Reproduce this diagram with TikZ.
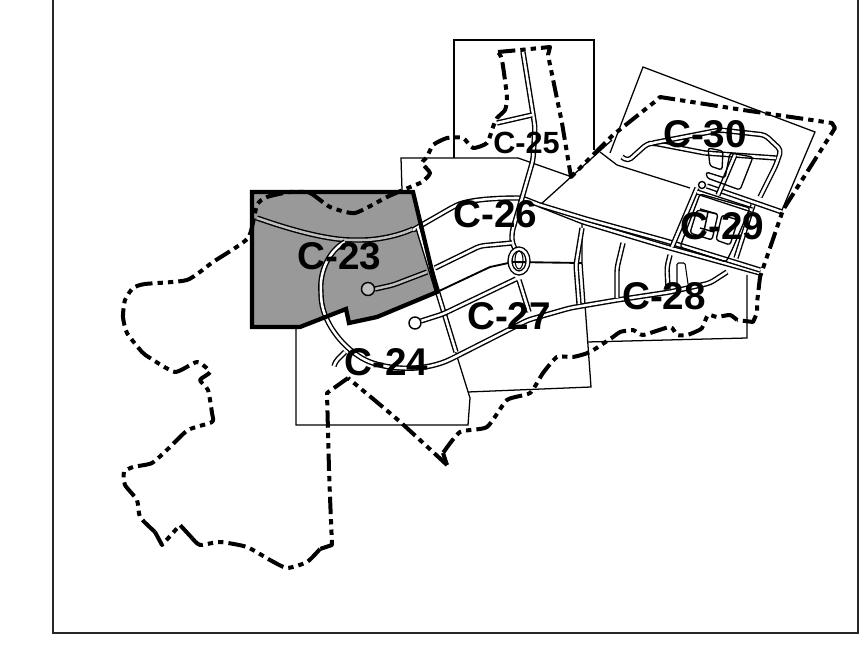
\documentclass[tikz,border=0pt]{standalone}
\usepackage{fontspec}
\setmainfont{Liberation Sans}
\begin{document}
\begin{tikzpicture}[x=.75pt,y=-.75pt]
\tikzset{sheet/.style={draw,line width=.95pt,line join=miter},
    road/.style={draw=black,line width=1.05pt,double=white,double distance=1.9pt,line join=round,rounded corners=3pt},
    grayroad/.style={road,double=black!25},
    roadend/.style={draw=black,line width=1.05pt,fill=white},
    lot/.style={draw,line width=1pt,rounded corners=2pt},
    boundary/.style={draw,line width=3pt,dash pattern=on 13pt off 3.8pt on 4pt off 3.8pt on 4pt off 3.8pt,line join=round},
    sheetlabel/.style={font=\bfseries\fontsize{29}{29}\selectfont,inner sep=0pt},
    smalllabel/.style={font=\bfseries\fontsize{23}{23}\selectfont,inner sep=0pt}}
\useasboundingbox (0,0) rectangle (864,648);
\draw[line width=1.5pt,draw=black!85] (53,-2) -- (53,633) -- (858,633) -- (858,-2);

% shaded sheet
\fill[black!40] (252,192) -- (413,192) -- (437,292) -- (377,317) -- (349,323) -- (346,309) -- (323,318) -- (300,327) -- (252,327) -- cycle;

% sheet limits
\draw[sheet] (296,327) -- (296,425) -- (468,425) -- (470,398) -- (455,350);
\draw[sheet] (468,392) -- (591,387) -- (582,263) -- (582,218);
\draw[sheet] (402,190) -- (401,158) -- (518,158) -- (572,177);
\draw[sheet] (454,158) -- (454,40) -- (594,40) -- (594,150);
\draw[sheet] (540,205) -- (612,140);
\draw[sheet] (610,153) -- (643,67) -- (815,132) -- (782,210);
\draw[sheet] (600,152) -- (617,165) -- (690,188);
\draw[sheet] (587,342) -- (747,338) -- (747,275);
\draw[line width=1.4pt] (437,292) -- (490,267) -- (513,262) -- (582,263);

% roads
\draw[grayroad] (257,218) .. controls (297,232) and (330,240) .. (357,240) .. controls (380,240) and (400,235) .. (413,229);
\draw[grayroad] (375,289) -- (393,285) -- (427,272);
\draw[roadend,fill=black!25] (368,289) circle (6.5);
\draw[road] (413,230) -- (453,207) .. controls (470,199) and (500,198) .. (522,198) -- (583,222) -- (663,246) -- (760,273);
\draw[road] (540,205) -- (586,219) -- (666,241) -- (760,270);
\draw[road] (523,52) -- (532,108) -- (535,127) -- (533,160) -- (522,198) -- (512,232) -- (512,243) -- (517,252);
\draw[road] (532,115) -- (497,123);
\draw[road] (418,228) -- (437,290) -- (456,352);
\draw[road] (435,268) -- (480,246) -- (512,243);
\draw[road] (421,321) -- (443,314) -- (516,279);
\draw[roadend] (415,323) circle (6);
\draw[road] (519,261) ellipse (9 and 12);
\draw[line width=.8pt] (519,260) ellipse (4 and 9);
\draw[road] (519,280) -- (529,312);
\draw[road] (345,242) .. controls (330,250) and (320,270) .. (321,293) .. controls (322,320) and (340,345) .. (365,360) .. controls (390,370) and (425,372) .. (455,357) -- (528,320) -- (570,308) -- (617,300) -- (670,292) -- (710,283) -- (727,272);
\draw[road] (345,352) -- (335,362) -- (334,366);
\draw[road] (582,228) -- (576,265) -- (579,304);
\draw[road] (623,243) -- (617,268) -- (617,298);
\draw[road] (670,255) -- (667,267) -- (668,290);
\draw[line width=.8pt,rounded corners=1pt] (677,287) -- (677,263) -- (685,263) -- (688,284);

% roads, north east
\draw[road] (622,157) -- (628,161) -- (647,144) -- (653,143) -- (705,153);
\draw[road] (653,143) -- (720,130) -- (765,135) -- (781,150) -- (776,165) -- (760,197);
\draw[road] (705,153) -- (776,158);
\draw[road] (697,188) -- (672,247);
\draw[road] (707,186) -- (782,212);
\draw[roadend] (702,185) circle (3.5);
\draw[road] (753,205) -- (736,258);
\draw[road] (697,192) -- (752,210);
\draw[road] (735,155) -- (718,195);
\draw[lot] (708,148) -- (723,151) -- (722,170) -- (710,166) -- cycle;
\draw[lot] (730,153) -- (753,157) -- (740,190) -- (707,178) -- (706,172) -- (725,178) -- cycle;
\draw[lot] (700,194) -- (750,208) -- (732,250) -- (726,262) -- (680,247) -- cycle;
\draw[lot] (697,210) -- (718,214) -- (712,240) -- (690,233) -- cycle;
\draw[lot] (722,215) -- (738,220) -- (730,245) -- (716,240) -- cycle;
\draw[line width=1.1pt] (700,209) -- (717,214) (700,228) -- (714,232) (708,212) -- (704,231);

% project boundary
\draw[boundary] plot[smooth,tension=.35] coordinates {(447,465) (398,420) (348,378)};
\draw[boundary] (348,378) -- (327,393) -- (329,470) -- (330,497) -- (332,545) -- (320,549);
\draw[boundary] plot[smooth,tension=.35] coordinates {(320,549) (307,562) (287,568) (270,560) (247,547) (220,542) (200,545) (192,538)};
\draw[boundary] (192,538) -- (180,525) -- (162,545) -- (155,532);
\draw[boundary] plot[smooth,tension=.35] coordinates {(155,532) (140,517) (137,500) (125,485) (124,472) (133,467) (152,463) (170,447) (188,430) (212,422) (212,413) (208,390) (200,380) (210,372) (197,362) (175,372) (150,358) (142,352) (127,333) (123,317) (125,300) (133,288) (145,284) (187,280) (213,262) (248,238) (257,205) (267,197) (290,192) (310,193) (330,207) (355,213) (387,197) (403,190) (422,182) (430,173) (422,163) (427,157) (433,145) (447,138) (463,138) (473,148) (487,143) (493,127) (497,118) (505,110) (507,97) (502,60) (498,52)};
\draw[boundary] (498,52) -- (520,50) -- (550,47) -- (548,55) -- (562,123) -- (571,177) -- (613,135) -- (657,100) -- (660,97) -- (743,110) -- (832,123) -- (835,128) -- (783,210) -- (760,277) -- (757,303) -- (757,313) -- (753,322) -- (737,320);
\draw[boundary] plot[smooth,tension=.35] coordinates {(737,320) (730,315) (717,317) (708,315) (702,328) (695,332) (687,335) (677,335) (670,327) (643,335) (633,330) (620,332) (613,337) (590,352) (573,357) (557,357) (543,373) (530,393) (507,400) (487,427) (460,432) (443,453)};
\draw[boundary] (443,453) -- (447,465);

% outline of the shaded sheet
\draw[line width=3.2pt,line join=miter] (252,327) -- (252,192) -- (413,192) -- (437,292) -- (377,317) -- (349,323) -- (346,309) -- (323,318) -- (300,327) -- cycle;

% labels
\node[sheetlabel] (c23) at (339.5,256) {C-23};
\node[sheetlabel] (c24) at (386.5,362) {C-24};
\node[smalllabel] (c25) at (526.5,143) {C-25};
\node[sheetlabel] (c26) at (495.5,214) {C-26};
\node[sheetlabel] (c27) at (509,316) {C-27};
\node[sheetlabel] (c28) at (664,296) {C-28};
\node[sheetlabel] (c29) at (722.5,226) {C-29};
\node[sheetlabel] (c30) at (705,134) {C-30};
\end{tikzpicture}
\end{document}
